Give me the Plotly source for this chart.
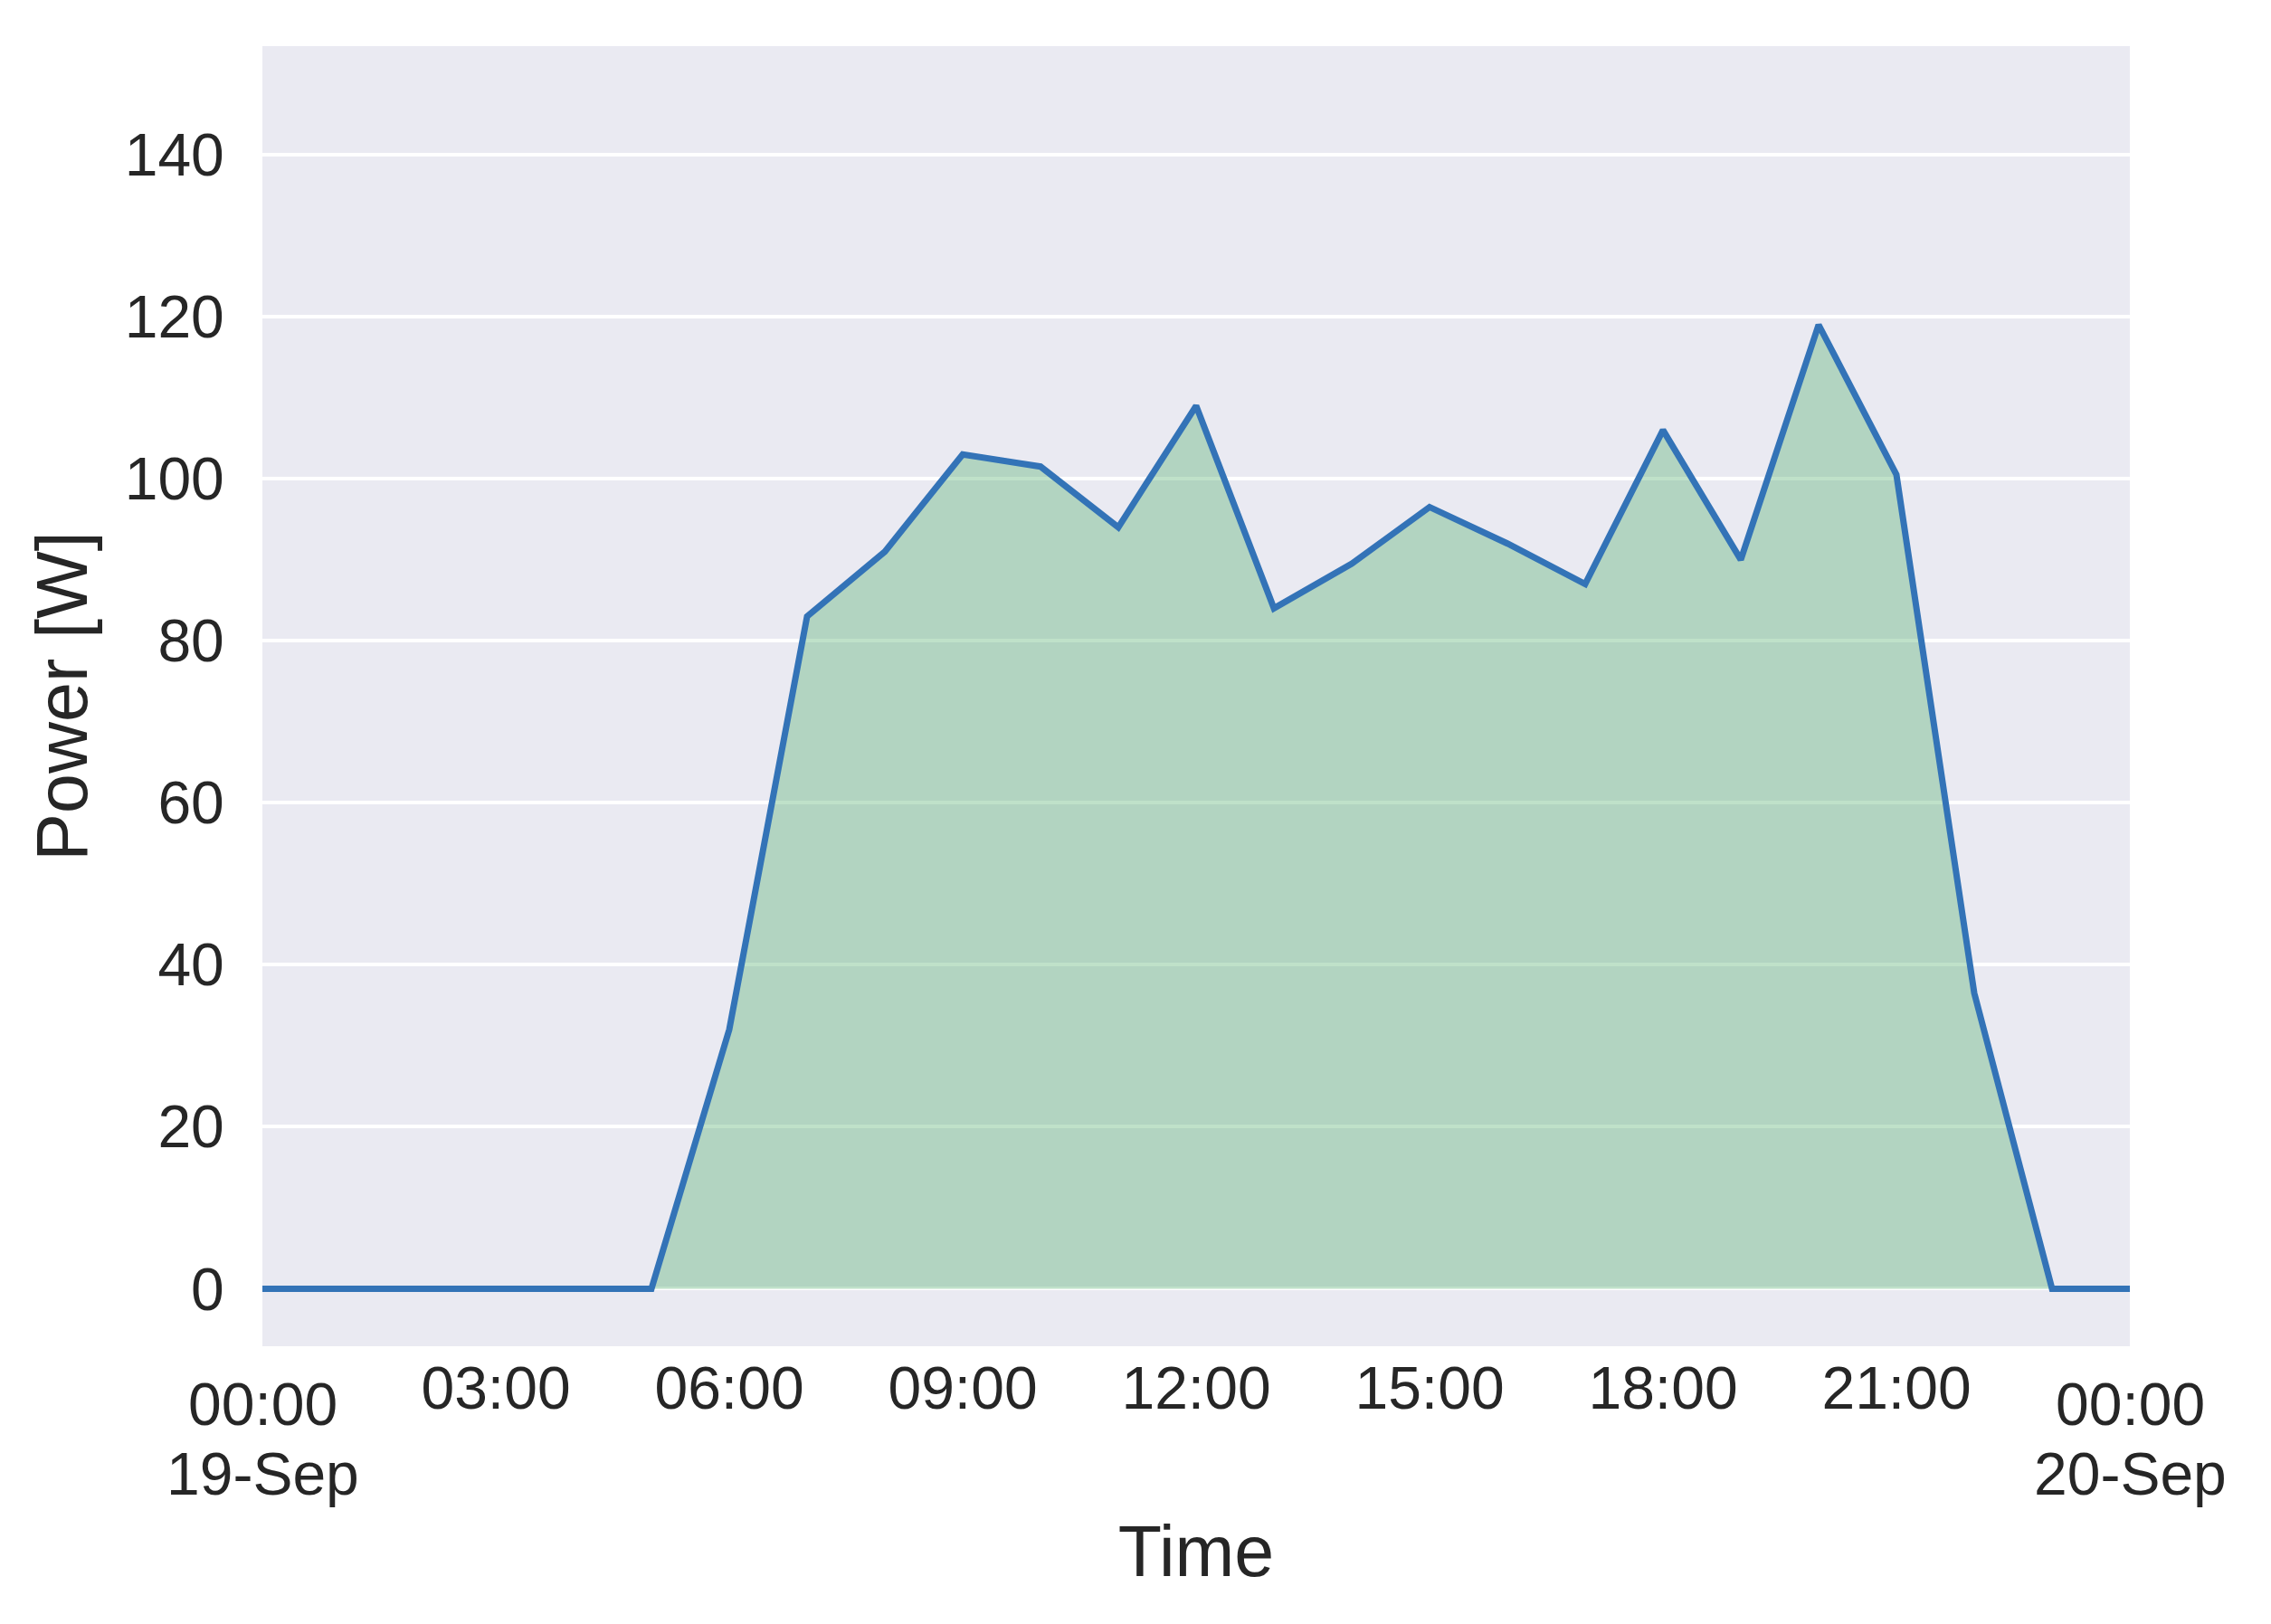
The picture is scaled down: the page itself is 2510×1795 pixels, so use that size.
import plotly.graph_objects as go

# --- data (hourly samples, 19-Sep) ---
times = [
    "2023-09-19 00:00", "2023-09-19 01:00", "2023-09-19 02:00", "2023-09-19 03:00",
    "2023-09-19 04:00", "2023-09-19 05:00", "2023-09-19 06:00", "2023-09-19 07:00",
    "2023-09-19 08:00", "2023-09-19 09:00", "2023-09-19 10:00", "2023-09-19 11:00",
    "2023-09-19 12:00", "2023-09-19 13:00", "2023-09-19 14:00", "2023-09-19 15:00",
    "2023-09-19 16:00", "2023-09-19 17:00", "2023-09-19 18:00", "2023-09-19 19:00",
    "2023-09-19 20:00", "2023-09-19 21:00", "2023-09-19 22:00", "2023-09-19 23:00",
    "2023-09-20 00:00",
]
power = [0, 0, 0, 0, 0, 0, 32, 83, 91, 103, 101.5, 94, 109, 84, 89.5, 96.5,
         92, 87, 106, 90, 119, 100.5, 36.5, 0, 0]

tick_times = ["2023-09-19 00:00", "2023-09-19 03:00", "2023-09-19 06:00",
              "2023-09-19 09:00", "2023-09-19 12:00", "2023-09-19 15:00",
              "2023-09-19 18:00", "2023-09-19 21:00", "2023-09-20 00:00"]
tick_labels = ["", "03:00", "06:00", "09:00", "12:00",
               "15:00", "18:00", "21:00", ""]
# the two day boundaries get a two-line label that sits a bit lower
day_ticks = ["2023-09-19 00:00", "2023-09-20 00:00"]
day_labels = ["19-Sep", "20-Sep"]
y_ticks = [0, 20, 40, 60, 80, 100, 120, 140]

font_family = "Liberation Sans, Arial, sans-serif"
font_size = 66
text_color = "#262626"

fig = go.Figure()

# green area under the curve
fig.add_trace(go.Scatter(
    x=times, y=power,
    mode="none",
    fill="tozeroy",
    fillcolor="rgba(95, 180, 120, 0.4)",
    showlegend=False,
    hoverinfo="skip",
))

# blue power line
fig.add_trace(go.Scatter(
    x=times, y=power,
    mode="lines",
    line=dict(color="#3373b7", width=7),
    showlegend=False,
))

# day-boundary tick labels ("00:00" over the date)
for t, d in zip(day_ticks, day_labels):
    fig.add_annotation(x=t, xref="x", y=0, yref="paper", yanchor="middle",
                       yshift=-64, text="00:00", showarrow=False,
                       font=dict(size=font_size, color=text_color))
    fig.add_annotation(x=t, xref="x", y=0, yref="paper", yanchor="middle",
                       yshift=-141, text=d, showarrow=False,
                       font=dict(size=font_size, color=text_color))

fig.update_layout(
    width=2510, height=1795,
    margin=dict(l=282, r=164, t=43, b=315),
    paper_bgcolor="white",
    plot_bgcolor="#eaeaf2",
    font=dict(family=font_family, size=font_size, color=text_color),
    xaxis=dict(
        range=["2023-09-19 00:00", "2023-09-20 00:00"],
        tickvals=tick_times,
        ticktext=tick_labels,
        showgrid=False,
        zeroline=False,
        ticks="", ticklabelstandoff=2,
        title=dict(text="Time", standoff=116),
    ),
    yaxis=dict(
        range=[-7.1, 153.4],
        tickvals=y_ticks,
        showgrid=True, gridcolor="white", gridwidth=4,
        zeroline=False,
        ticks="outside", ticklen=28, tickcolor="rgba(0,0,0,0)",
        title=dict(text="Power [W]", standoff=15),
    ),
)

fig.write_html("out.html")
